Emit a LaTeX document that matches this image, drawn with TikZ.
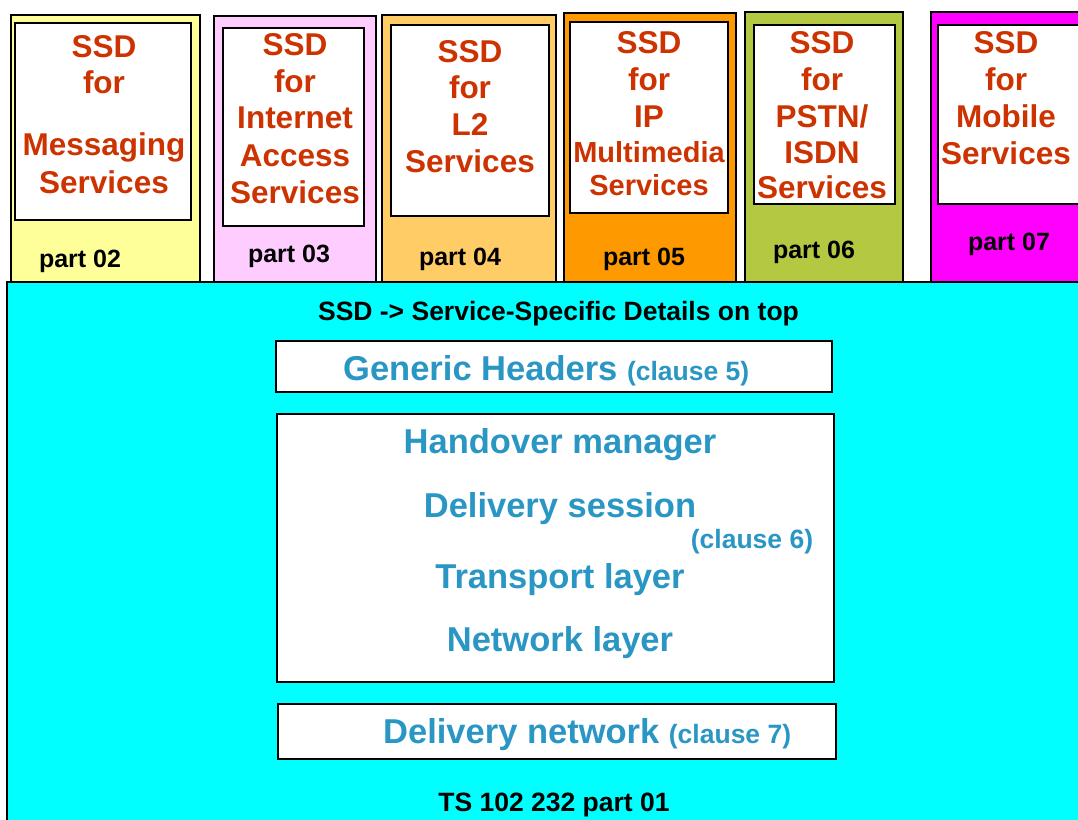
\documentclass[tikz,border=0pt]{standalone}
\usepackage{fontspec}
\setmainfont{Liberation Sans}
\definecolor{ssdred}{RGB}{204,51,0}
\definecolor{layerblue}{RGB}{41,150,196}
\definecolor{cyanbg}{RGB}{0,255,255}
\definecolor{colA}{RGB}{255,255,153}
\definecolor{colB}{RGB}{255,204,255}
\definecolor{colC}{RGB}{255,204,102}
\definecolor{colD}{RGB}{255,153,0}
\definecolor{colE}{RGB}{181,200,66}
\definecolor{colF}{RGB}{255,0,255}
\begin{document}
\begin{tikzpicture}[x=1pt,y=-1pt,
  outline/.style={draw=black,line width=1.8pt},
  whitebox/.style={outline,fill=white},
  ssd/.style={text=ssdred,font=\fontsize{31.5}{36}\selectfont\bfseries,anchor=base,inner sep=0pt},
  ssdsmall/.style={ssd,font=\fontsize{29}{34}\selectfont\bfseries},
  partlbl/.style={text=black,font=\fontsize{25}{30}\selectfont\bfseries,anchor=base,inner sep=0pt},
  layer/.style={text=layerblue,font=\fontsize{34.5}{40}\selectfont\bfseries,anchor=base,inner sep=0pt},
  clause/.style={text=layerblue,font=\fontsize{26.5}{30}\selectfont\bfseries,anchor=base,inner sep=0pt},
  note/.style={text=black,font=\fontsize{26.5}{30}\selectfont\bfseries,anchor=base,inner sep=0pt}]
\useasboundingbox (0,0) rectangle (1078,819);
\clip (0,0) rectangle (1078,819);
\fill[white] (0,0) rectangle (1078,819);
% base block
\path[outline,fill=cyanbg] (7,282) rectangle (1095,830);
% columns
\path[outline,fill=colA] (11,15) rectangle (200,282);
\path[whitebox] (15,23) rectangle (191,220);
\path[outline,fill=colB] (214,16) rectangle (376,282);
\path[whitebox] (223,28) rectangle (364,226);
\path[outline,fill=colC] (382,15) rectangle (556,282);
\path[whitebox] (391,25) rectangle (549,216);
\path[outline,fill=colD] (564,13) rectangle (736,282);
\path[whitebox] (570,22) rectangle (728,213);
\path[outline,fill=colE] (745,12) rectangle (903,282);
\path[whitebox] (754,25) rectangle (895,204);
\path[outline,fill=colF] (931,12) rectangle (1095,282);
\path[whitebox] (938,25) rectangle (1095,204);
% column 1
\node[ssd] (c1a) at (104,57) {SSD};
\node[ssd] (c1b) at (104,93) {for};
\node[ssd] (c1c) at (104,155) {Messaging};
\node[ssd] (c1d) at (104,193) {Services};
\node[partlbl] (p2) at (80,267) {part 02};
% column 2
\node[ssd] (c2a) at (295,55) {SSD};
\node[ssd] (c2b) at (295,92) {for};
\node[ssd] (c2c) at (295,128) {Internet};
\node[ssd] (c2d) at (295,166) {Access};
\node[ssd] (c2e) at (295,203) {Services};
\node[partlbl] (p3) at (289,262) {part 03};
% column 3
\node[ssd] (c3a) at (470,62) {SSD};
\node[ssd] (c3b) at (470,98) {for};
\node[ssd] (c3c) at (470,135) {L2};
\node[ssd] (c3d) at (470,172) {Services};
\node[partlbl] (p4) at (460,265) {part 04};
% column 4
\node[ssd] (c4a) at (649,53) {SSD};
\node[ssd] (c4b) at (649,90) {for};
\node[ssd] (c4c) at (649,127) {IP};
\node[ssdsmall] (c4d) at (649,162) {Multimedia};
\node[ssdsmall] (c4e) at (649,195) {Services};
\node[partlbl] (p5) at (644,265) {part 05};
% column 5
\node[ssd] (c5a) at (822,53) {SSD};
\node[ssd] (c5b) at (822,90) {for};
\node[ssd] (c5c) at (822,127) {PSTN/};
\node[ssd] (c5d) at (822,163) {ISDN};
\node[ssd] (c5e) at (822,198) {Services};
\node[partlbl] (p6) at (814,258) {part 06};
% column 6
\node[ssd] (c6a) at (1006,53) {SSD};
\node[ssd] (c6b) at (1006,90) {for};
\node[ssd] (c6c) at (1006,127) {Mobile};
\node[ssd] (c6d) at (1006,164) {Services};
\node[partlbl] (p7) at (1009,250) {part 07};
% base content
\node[note] (top) at (558.5,320) {SSD -> Service-Specific Details on top};
\path[whitebox] (276,341) rectangle (832,392);
\node[layer,anchor=base west] (gh) at (343,380) {Generic Headers {\fontsize{26.5}{30}\selectfont (clause 5)}};
\path[whitebox] (277,414) rectangle (834,682);
\node[layer] (hm) at (560,453) {Handover manager};
\node[layer] (ds) at (560,517) {Delivery session};
\node[clause] (cl6) at (752,548) {(clause 6)};
\node[layer] (tl) at (560,588) {Transport layer};
\node[layer] (nl) at (560,651) {Network layer};
\path[whitebox] (278,704) rectangle (836,759);
\node[layer,anchor=base west] (dn) at (383,743) {Delivery network {\fontsize{26.5}{30}\selectfont (clause 7)}};
\node[note] (ts) at (554,811) {TS 102 232 part 01};
\end{tikzpicture}
\end{document}
